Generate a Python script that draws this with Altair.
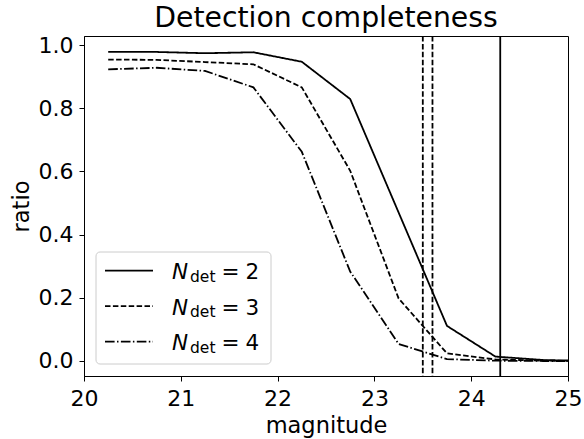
import altair as alt
import pandas as pd

# ---- data ----
magnitude = [20.25, 20.75, 21.25, 21.75, 22.25, 22.75, 23.25, 23.75, 24.25, 24.75, 25.25]
ratio_n2 = [0.978, 0.978, 0.974, 0.977, 0.947, 0.829, 0.470, 0.111, 0.014, 0.003, 0.0]
ratio_n3 = [0.954, 0.953, 0.946, 0.939, 0.866, 0.602, 0.198, 0.024, 0.005, 0.001, 0.0]
ratio_n4 = [0.923, 0.928, 0.918, 0.866, 0.662, 0.283, 0.054, 0.006, 0.001, 0.0, 0.0]
n_det = ["2", "3", "4"]
vline_dashed = [23.5, 23.6]
vline_solid = [24.3]
x_ticks = [20, 21, 22, 23, 24, 25]
y_ticks = [0.0, 0.2, 0.4, 0.6, 0.8, 1.0]
title_text = "Detection completeness"

FONT = "DejaVu Sans"
W, H = 484, 340
LEFT, TOP = 84, 36
dashes = {"2": [1, 0], "3": [5.5, 2.4], "4": [9.6, 2.4, 1.5, 2.4]}

rows = []
for n, vals in zip(n_det, [ratio_n2, ratio_n3, ratio_n4]):
    for m, r in zip(magnitude, vals):
        rows.append({"magnitude": m, "ratio": r, "n": n})
df = pd.DataFrame(rows)

xscale = alt.Scale(domain=[20, 25], nice=False, zero=False)
yscale = alt.Scale(domain=[-0.0475, 1.0285], nice=False, zero=False)

xaxis = alt.Axis(values=x_ticks, format="d", title="magnitude", grid=False, labelFlush=False)
yaxis = alt.Axis(values=y_ticks, format=".1f", title="ratio", grid=False, labelFlush=False)

layers = []
for n in n_det:
    layers.append(
        alt.Chart(df[df.n == n]).mark_line(
            color="black", strokeWidth=1.8, strokeDash=dashes[n], clip=True
        ).encode(
            x=alt.X("magnitude:Q", scale=xscale, axis=xaxis),
            y=alt.Y("ratio:Q", scale=yscale, axis=yaxis),
        )
    )

vd = pd.DataFrame({"x": vline_dashed})
vs = pd.DataFrame({"x": vline_solid})
layers.append(
    alt.Chart(vd).mark_rule(color="black", strokeWidth=1.8, strokeDash=[5.5, 2.4]).encode(
        x=alt.X("x:Q", scale=xscale, axis=xaxis)
    )
)
layers.append(
    alt.Chart(vs).mark_rule(color="black", strokeWidth=1.8).encode(
        x=alt.X("x:Q", scale=xscale, axis=xaxis)
    )
)

one = pd.DataFrame({"a": [0]})

# ---- title as a text mark above the plot ----
layers.append(
    alt.Chart(one).mark_text(
        font=FONT, fontSize=28.3, align="center", baseline="alphabetic", color="black"
    ).encode(x=alt.value(W / 2), y=alt.value(27.3 - TOP), text=alt.value(title_text))
)

# ---- hand-made legend (for the N_det subscript) ----
box_l, box_r, box_t, box_b = 96, 271, 252, 364
layers.append(
    alt.Chart(one).mark_rect(
        fill="white", fillOpacity=0.8, stroke="#cccccc", strokeWidth=1, cornerRadius=4
    ).encode(
        x=alt.value(box_l - LEFT), x2=alt.value(box_r - LEFT),
        y=alt.value(box_t - TOP), y2=alt.value(box_b - TOP),
    )
)
for i, n in enumerate(n_det):
    yc = 270.7 + 35.5 * i - TOP
    layers.append(
        alt.Chart(one).mark_rule(color="black", strokeWidth=1.8, strokeDash=dashes[n]).encode(
            x=alt.value(105 - LEFT), x2=alt.value(153 - LEFT), y=alt.value(yc)
        )
    )
    layers.append(
        alt.Chart(one).mark_text(
            font=FONT, fontSize=21.5, fontStyle="italic", align="left", baseline="alphabetic", color="black"
        ).encode(x=alt.value(172 - LEFT), y=alt.value(yc + 8.3), text=alt.value("N"))
    )
    layers.append(
        alt.Chart(one).mark_text(
            font=FONT, fontSize=15.5, align="left", baseline="alphabetic", color="black"
        ).encode(x=alt.value(190 - LEFT), y=alt.value(yc + 11), text=alt.value("det"))
    )
    layers.append(
        alt.Chart(one).mark_text(
            font=FONT, fontSize=21.5, align="left", baseline="alphabetic", color="black"
        ).encode(x=alt.value(221.5 - LEFT), y=alt.value(yc + 8.3), text=alt.value("="))
    )
    layers.append(
        alt.Chart(one).mark_text(
            font=FONT, fontSize=21.5, align="left", baseline="alphabetic", color="black"
        ).encode(x=alt.value(245.5 - LEFT), y=alt.value(yc + 8.3), text=alt.value(n))
    )

chart = alt.layer(*layers).properties(
    width=W,
    height=H,
    autosize=alt.AutoSizeParams(type="none"),
    padding={"left": LEFT, "top": TOP, "right": 584 - LEFT - W, "bottom": 439 - TOP - H},
).configure_view(
    stroke="black", strokeWidth=1
).configure_axis(
    labelFont=FONT, labelFontSize=22, labelColor="black",
    titleFont=FONT, titleFontSize=22.5, titleFontWeight="normal", titleColor="black",
    domainColor="black", domainWidth=1, tickColor="black", tickWidth=1, tickSize=5,
).configure_axisX(labelPadding=7, titlePadding=5).configure_axisY(labelPadding=6, titlePadding=5)

chart.save("out.html", embed_options={"renderer": "svg", "actions": False})
